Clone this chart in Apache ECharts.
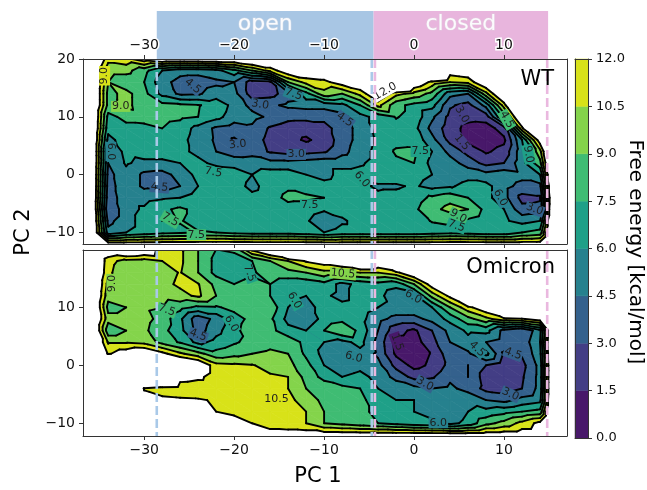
<!DOCTYPE html>
<html>
<head>
<meta charset="utf-8">
<script src="https://cdn.jsdelivr.net/npm/echarts@6/dist/echarts.min.js"></script>
<style>
  html, body { margin: 0; padding: 0; background: #fff; }
  #chart { width: 647px; height: 490px; }
</style>
</head>
<body>
<div id="chart"></div>
<script>
// grid nodes of the free energy maps (PC 1 across, PC 2 down from the top)
var xNodes = [-36, -34, -32, -30, -28, -26, -24, -22, -20, -18, -16, -14, -12, -10, -8, -6, -4, -2, 0, 2, 4, 6, 8, 10, 12, 14, 16];
var yNodes = [20, 18, 16, 14, 12, 10, 8, 6, 4, 2, 0, -2, -4, -6, -8, -10, -12];

// free energy [kcal/mol], one row per yNodes entry; values above 12 are left blank
var wtEnergy = [
  [16, 11, 11.5, 13, 14, 14, 14, 14, 14, 15, 15, 20, 20, 20, 20, 20, 20, 20, 20, 20, 20, 20, 20, 20, 20, 20, 20],
  [16, 9.5, 9.5, 8, 6, 5, 5, 5.5, 7, 9, 11, 13.5, 14, 14, 20, 20, 20, 20, 20, 20, 13, 13.5, 20, 20, 20, 20, 20],
  [16, 9, 8, 7.5, 5, 4, 3.8, 4.2, 4.5, 2.3, 2.6, 9, 11, 11.5, 13, 14, 20, 20, 14, 11.5, 10.5, 11, 14, 20, 20, 20, 20],
  [16, 8.5, 9.5, 8, 5.5, 4.2, 4.3, 5.2, 5, 2.2, 2.4, 3.8, 7, 10, 9, 11, 14, 11, 10, 8.5, 5, 4.5, 10, 15, 20, 20, 20],
  [16, 8.5, 9.5, 8, 8, 7.8, 7.6, 7, 5.5, 4, 4.2, 4.8, 5, 5, 5.5, 7.5, 11, 8, 7, 6.5, 3.2, 2.5, 5, 11.2, 20, 20, 20],
  [16, 7, 8, 8.2, 8, 7.8, 7.5, 6.5, 5.2, 5, 4.2, 3.5, 3.5, 3.5, 4, 5.5, 6.5, 7.6, 7, 4.8, 2.5, 2, 2.2, 8, 15, 20, 20],
  [16, 6.5, 7, 7, 7.5, 6.8, 5.5, 4.2, 3.8, 4.2, 2.8, 2.2, 2, 2.4, 3.8, 5, 6.5, 7, 6.5, 4, 2.2, 1, 0.8, 2.2, 11.5, 20, 20],
  [16, 5.5, 6.8, 7, 7, 6.5, 5.3, 4.3, 2.8, 3.8, 2.5, 2, 1.3, 2, 3.8, 5, 6.3, 7, 7, 5, 2.5, 1, 0.7, 1.2, 6, 13, 20],
  [16, 4.5, 6.5, 7, 7, 6.5, 5.5, 4.5, 3.8, 4, 2.8, 2.4, 2.5, 2.8, 4, 5.3, 6.5, 7.7, 7.8, 6, 4, 2.5, 1.3, 2, 5.5, 10, 20],
  [16, 4.5, 6.2, 5.5, 5.5, 6, 6.5, 5.5, 5.3, 5.2, 5, 5, 5.2, 5.5, 5.5, 5.8, 6.5, 7.2, 7.5, 5.5, 5.2, 3.8, 2.5, 3, 5.5, 8.5, 20],
  [16, 4, 5.5, 4.2, 4, 5, 6.5, 7.6, 7, 6, 6.8, 6.8, 6, 5.5, 6.5, 6.5, 6.8, 6.8, 6.5, 6, 5, 5.5, 5, 5.5, 5, 6, 20],
  [16, 3.8, 5.5, 4.2, 3.8, 4.5, 6, 7, 6.8, 5.5, 6.8, 7.3, 6.8, 6.5, 6.8, 6.3, 5.8, 5.8, 6.2, 5.5, 5.8, 6.5, 6.5, 5, 4, 4, 20],
  [16, 3.5, 5.5, 5.5, 5.8, 6, 6.8, 6.8, 6.8, 6.5, 7, 7.8, 7.8, 7.5, 6.5, 6, 6.3, 6.5, 6.8, 7.8, 8.5, 7.5, 6.5, 5, 2.5, 2.8, 20],
  [16, 3, 5.5, 6.2, 7.2, 7.8, 7, 6.5, 6.5, 6.8, 6.8, 7, 6.8, 6.2, 6.5, 6.5, 6.8, 6.5, 7.2, 8.5, 9.5, 9, 7, 6, 3.5, 3.5, 20],
  [16, 4, 5.5, 6.5, 7.5, 7.6, 7, 6.8, 6.8, 6.8, 6.5, 6.5, 6.2, 5, 5.8, 6.5, 6.5, 6.8, 6.8, 7.6, 7.8, 7.2, 6.5, 6.2, 5.5, 6, 20],
  [16, 5, 6, 6.5, 7, 7.2, 7.6, 7.5, 7, 6.8, 6.8, 6.8, 6.5, 6, 6.5, 6.5, 6.5, 6.5, 6.5, 6.8, 7, 6.8, 6.5, 6.5, 7.5, 8, 20],
  [16, 13, 13, 13, 13, 13, 13, 13, 13, 13, 13, 13, 13, 13, 13, 13, 13, 13, 13, 13, 13, 13, 13, 13, 13, 13, 20]
];

var omicronEnergy = [
  [16, 14, 15, 14, 11, 10.8, 9, 7.5, 7.8, 12.5, 15, 20, 20, 20, 20, 20, 20, 20, 20, 20, 20, 20, 20, 20, 20, 20, 20],
  [16, 11, 10, 9.8, 10.5, 10.8, 9, 7, 6.8, 7.5, 9, 10.5, 12.2, 13, 14, 16, 14, 20, 20, 20, 20, 20, 20, 20, 20, 20, 20],
  [16, 10.8, 9.5, 9.5, 9.8, 10.6, 9, 7, 6.8, 7.2, 8.5, 8.5, 9, 10, 10, 10.5, 10.5, 11.5, 14, 20, 20, 20, 20, 20, 20, 20, 20],
  [16, 10, 9.5, 9.3, 10, 10.8, 10.6, 8.5, 7.5, 8, 7.5, 6.5, 6.5, 7, 5.5, 6.5, 7, 6.5, 9, 13, 20, 20, 20, 20, 20, 20, 20],
  [16, 9.5, 9.8, 9.5, 9.5, 10, 10.8, 9, 8.5, 8.5, 7.5, 6.3, 6, 6.3, 5.5, 6.8, 6.5, 5, 5.5, 9.5, 12.5, 20, 20, 20, 20, 20, 20],
  [16, 8.5, 9, 9.2, 9, 8, 7.2, 7.3, 8, 9, 8.5, 6, 5.5, 6.5, 6.5, 6.8, 6, 5.5, 5.5, 6, 9, 11.5, 13.5, 20, 20, 20, 20],
  [16, 9.5, 9.5, 9.5, 8.5, 6.3, 3.5, 5, 6.8, 8, 7.8, 5.5, 5, 6.5, 7, 6.5, 5, 4, 4, 5, 6.5, 8.5, 10, 11.5, 11.8, 13, 20],
  [16, 8, 9, 9.3, 8, 6.5, 3.8, 5.5, 7, 8.5, 8, 6.5, 6, 7.5, 9, 7, 4.5, 2, 1.2, 3, 5, 6.3, 6.5, 4, 3, 5.5, 20],
  [16, 10.3, 10.3, 10, 8.5, 7.3, 5.5, 6.5, 7.3, 8, 8.5, 8.5, 7, 6, 5.5, 6.5, 4, 1, 0.8, 2.5, 4.5, 5.5, 4.5, 3.8, 3.5, 6, 20],
  [16, 11.8, 13, 14, 12.5, 10.8, 9.5, 8, 8.5, 9, 9.3, 9, 7.2, 5.5, 5.2, 5.5, 4.2, 1.2, 0.8, 1.6, 4, 4.2, 6.5, 2.8, 3.2, 5.5, 20],
  [16, 20, 20, 20, 20, 15, 14, 11, 10.8, 10.6, 10, 9.5, 8, 6, 5, 5.5, 5, 2.5, 1, 1.8, 3.5, 4.5, 3, 2, 2.5, 5, 20],
  [16, 20, 20, 20, 20, 13, 12.5, 11, 10.8, 10.8, 10.7, 10.5, 8.5, 7, 6, 6.5, 5.5, 4, 2.5, 2.8, 4.2, 4.5, 2.2, 2, 2.8, 5, 20],
  [16, 20, 20, 11.8, 11, 10.8, 10.6, 10.7, 10.6, 10.8, 10.8, 10.5, 9, 8.5, 8, 7.5, 6, 5.5, 5, 4.5, 4.8, 4, 2.5, 2.2, 3, 5, 20],
  [16, 20, 20, 13, 12.5, 12.3, 12.2, 11.8, 11.5, 10.8, 10.6, 10.8, 10, 8.5, 8, 8, 6.5, 6, 6, 5.5, 5, 5.5, 4.5, 4, 5, 5.5, 20],
  [16, 20, 20, 20, 14, 13.5, 13, 12, 11.5, 11, 11, 10.8, 10.5, 9, 8.2, 8, 7, 6.5, 6, 5.5, 4.8, 6, 6.5, 7, 7.5, 8, 20],
  [16, 20, 20, 20, 20, 20, 20, 15, 13, 12, 11, 10.8, 10.5, 9, 8.5, 8, 7.5, 7, 6.5, 6.3, 5.5, 6.5, 8.5, 9.5, 11, 12.5, 20],
  [16, 20, 20, 20, 20, 20, 20, 20, 13, 13, 13, 13, 13, 13, 13, 13, 13, 13, 13, 13, 13, 13, 13, 13, 13, 13, 20]
];

var levels = [0, 1.5, 3, 4.5, 6, 7.5, 9, 10.5, 12];
var bandColors = ['#48186a', '#433e85', '#34618d', '#26818e', '#1fa088', '#3fbc73', '#84d44b', '#d8e219'];

var xTicks = [-30, -20, -10, 0, 10];
var wtYTicks = [-10, 0, 10, 20];
var omYTicks = [-10, 0, 10];

var regionNames = ['open', 'closed'];
var regionStart = [-28.6, -4.5];
var regionEnd = [-4.5, 14.9];
var regionColors = ['#a8c6e4', '#e8b5dd'];
var regionTextStroke = ['#c3d3e6', '#e3c6dd'];

var openLines = [-28.6, -4.7];
var closedLines = [-4.35, 14.8];

// contour labels: [PC 1, PC 2, text, rotation in degrees]
var wtLabels = [
  [-34.4, 17.1, '9.0', 90], [-32.6, 11.8, '9.0', 0], [-24.6, 15.3, '4.5', -40],
  [-17.1, 12.1, '3.0', -10], [-19.6, 5.2, '3.0', 5], [-13.1, 3.5, '3.0', 0],
  [-22.3, 0.4, '7.5', -10], [-28.3, -2.2, '4.5', -5], [-11.6, -5.2, '7.5', 0],
  [-27.1, -7.8, '7.5', -30], [-24.2, -10.4, '7.5', 0], [-33.7, 4, '6.0', -90],
  [-13.4, 13.9, '7.5', -20], [-7.7, 9.5, '4.5', -35], [-5.8, -0.8, '6.0', -50],
  [-3.2, 14.4, '12.0', 30], [0.7, 4, '7.5', 0], [5.3, 10.4, '3.0', -60],
  [5.3, 5.6, '1.5', -50], [10.3, 9.5, '4.5', -60], [12.7, 3.5, '9.0', -80],
  [9.6, -4, '6.0', -60], [13.4, -6, '3.0', -20], [4.9, -7.2, '9.0', -30],
  [4.7, -8.9, '7.5', -20]
];
var omLabels = [
  [-33.6, 14.1, '9.0', 90], [-18.3, 15.9, '7.5', -70], [-27.5, 9.5, '7.5', -20],
  [-20.3, 7.2, '6.0', -60], [-24, 5.2, '4.5', -20], [-13.3, 11.2, '6.0', -60],
  [-15.3, -5.9, '10.5', 0], [-7.9, 15.8, '10.5', -5], [-6.7, 1.4, '6.0', -15],
  [-0.1, 11.8, '6.0', -30], [-1.9, 4, '1.5', -70], [1.2, -3.2, '3.0', -30],
  [7, 2.8, '4.5', -45], [11, 2, '4.5', -20], [10.7, -5, '3.0', -25],
  [2.7, -9.9, '6.0', 0]
];

var FONT = 'DejaVu Sans';
var AXIS_COLOR = '#333';

function fmtTick(v) {
  return v < 0 ? '\u2212' + Math.abs(v) : String(v);
}

// clip a triangle/polygon (with values at the vertices) against one level
function clipPoly(poly, level, keepAbove) {
  var out = [];
  for (var i = 0; i < poly.length; i++) {
    var a = poly[i], b = poly[(i + 1) % poly.length];
    var ina = keepAbove ? a.v >= level : a.v <= level;
    var inb = keepAbove ? b.v >= level : b.v <= level;
    if (ina) out.push(a);
    if (ina !== inb) {
      var t = (level - a.v) / (b.v - a.v);
      out.push({ x: a.x + t * (b.x - a.x), y: a.y + t * (b.y - a.y), v: level });
    }
  }
  return out;
}

function cellTriangles(grid, c, r) {
  var node = function (ci, ri) {
    return { x: xNodes[ci], y: yNodes[ri], v: grid[ri][ci] };
  };
  var a = node(c, r), b = node(c + 1, r), cc = node(c + 1, r + 1), d = node(c, r + 1);
  return [[a, b, cc], [a, cc, d]];
}

// colour of the band under a point, so a label can cut the lines below it
function bandAt(grid, x, y) {
  var c = 0, r = 0;
  while (c < xNodes.length - 2 && xNodes[c + 1] <= x) c++;
  while (r < yNodes.length - 2 && yNodes[r + 1] >= y) r++;
  var tx = (x - xNodes[c]) / (xNodes[c + 1] - xNodes[c]);
  var ty = (y - yNodes[r]) / (yNodes[r + 1] - yNodes[r]);
  var v = (1 - tx) * (1 - ty) * grid[r][c] + tx * (1 - ty) * grid[r][c + 1] +
          (1 - tx) * ty * grid[r + 1][c] + tx * ty * grid[r + 1][c + 1];
  for (var k = 0; k < bandColors.length; k++) {
    if (v < levels[k + 1]) return bandColors[k];
  }
  return '#ffffff';
}

var cells = [];
for (var r = 0; r < yNodes.length - 1; r++) {
  for (var c = 0; c < xNodes.length - 1; c++) {
    cells.push([xNodes[c], yNodes[r], c, r]);
  }
}

function fillSeries(grid, xi, yi) {
  return {
    type: 'custom', xAxisIndex: xi, yAxisIndex: yi, clip: true, silent: true, z: 2,
    data: cells, encode: { x: 0, y: 1 },
    renderItem: function (params, api) {
      var tris = cellTriangles(grid, api.value(2), api.value(3));
      var children = [];
      tris.forEach(function (tri) {
        for (var k = 0; k < bandColors.length; k++) {
          var poly = clipPoly(clipPoly(tri, levels[k], true), levels[k + 1], false);
          if (poly.length < 3) continue;
          children.push({
            type: 'polygon',
            shape: { points: poly.map(function (p) { return api.coord([p.x, p.y]); }) },
            style: { fill: bandColors[k], stroke: bandColors[k], lineWidth: 0.7 }
          });
        }
      });
      return { type: 'group', children: children };
    }
  };
}

function lineSeries(grid, xi, yi) {
  return {
    type: 'custom', xAxisIndex: xi, yAxisIndex: yi, clip: true, silent: true, z: 3,
    data: cells, encode: { x: 0, y: 1 },
    renderItem: function (params, api) {
      var tris = cellTriangles(grid, api.value(2), api.value(3));
      var children = [];
      tris.forEach(function (tri) {
        levels.forEach(function (L) {
          var pts = [];
          for (var e = 0; e < 3; e++) {
            var p1 = tri[e], p2 = tri[(e + 1) % 3];
            if ((p1.v < L) !== (p2.v < L)) {
              var t = (L - p1.v) / (p2.v - p1.v);
              pts.push(api.coord([p1.x + t * (p2.x - p1.x), p1.y + t * (p2.y - p1.y)]));
            }
          }
          if (pts.length === 2) {
            children.push({
              type: 'line',
              shape: { x1: pts[0][0], y1: pts[0][1], x2: pts[1][0], y2: pts[1][1] },
              style: { stroke: '#000', lineWidth: 1.9, lineCap: 'round' }
            });
          }
        });
      });
      return { type: 'group', children: children };
    }
  };
}

function labelSeries(labels, grid, xi, yi) {
  return {
    type: 'custom', xAxisIndex: xi, yAxisIndex: yi, clip: true, silent: true, z: 4,
    data: labels.map(function (l) { return [l[0], l[1], l[3]]; }),
    encode: { x: 0, y: 1 },
    renderItem: function (params, api) {
      var item = labels[params.dataIndex];
      var p = api.coord([item[0], item[1]]);
      return {
        type: 'text', x: p[0], y: p[1], rotation: item[3] * Math.PI / 180,
        style: {
          text: item[2], fill: '#1e1e1e', fontSize: 11, fontFamily: FONT,
          align: 'center', verticalAlign: 'middle',
          backgroundColor: bandAt(grid, item[0], item[1]), padding: [0, 1]
        }
      };
    }
  };
}

function dashSeries(xi, yi) {
  var data = openLines.map(function (x) { return [x, 0]; })
    .concat(closedLines.map(function (x) { return [x, 1]; }));
  return {
    type: 'custom', xAxisIndex: xi, yAxisIndex: yi, clip: true, silent: true, z: 5,
    data: data, encode: { x: 0 },
    renderItem: function (params, api) {
      var cs = params.coordSys;
      var px = api.coord([api.value(0), 0])[0];
      return {
        type: 'line',
        shape: { x1: px, y1: cs.y, x2: px, y2: cs.y + cs.height },
        style: {
          stroke: api.value(1) === 0 ? '#a9c9e8' : '#eab8df',
          lineWidth: 2.6, lineDash: [9, 4]
        }
      };
    }
  };
}

function xAxisDef(gi, pos, withLabels, withTicks, extra) {
  var a = {
    gridIndex: gi, type: 'value', min: -36.8, max: 17, position: pos, z: 10,
    splitLine: { show: false },
    axisLine: { show: true, onZero: false, lineStyle: { color: AXIS_COLOR, width: 1 } },
    axisTick: { show: withTicks, customValues: xTicks, length: 4, lineStyle: { color: AXIS_COLOR } },
    axisLabel: {
      show: withLabels, customValues: xTicks, formatter: fmtTick, margin: 7,
      fontSize: 14, fontFamily: FONT, color: '#111'
    }
  };
  if (extra) Object.assign(a.axisLabel, extra);
  return a;
}

function yAxisDef(gi, pos, min, max, ticks) {
  return {
    gridIndex: gi, type: 'value', min: min, max: max, position: pos, z: 10,
    splitLine: { show: false },
    axisLine: { show: true, onZero: false, lineStyle: { color: AXIS_COLOR, width: 1 } },
    axisTick: { show: !!ticks, customValues: ticks || [], length: 4, lineStyle: { color: AXIS_COLOR } },
    axisLabel: {
      show: !!ticks, customValues: ticks || [], formatter: fmtTick, margin: 8,
      fontSize: 14, fontFamily: FONT, color: '#111'
    }
  };
}

var chart = echarts.init(document.getElementById('chart'));

var option = {
  animation: false,
  backgroundColor: '#fff',
  textStyle: { fontFamily: FONT },
  grid: [
    { left: 83, top: 11, width: 484, height: 48 },
    { left: 83, top: 59, width: 484, height: 185 },
    { left: 83, top: 250, width: 484, height: 186 },
    { left: 575, top: 59, width: 13, height: 379 }
  ],
  xAxis: [
    { gridIndex: 0, type: 'value', min: -36.8, max: 17, show: false },
    xAxisDef(1, 'top', true, true, { textBorderColor: '#fff', textBorderWidth: 3 }),
    xAxisDef(1, 'bottom', false, true),
    xAxisDef(2, 'bottom', true, true),
    xAxisDef(2, 'top', false, false),
    {
      gridIndex: 3, type: 'value', min: 0, max: 1, position: 'bottom', z: 10,
      splitLine: { show: false }, axisTick: { show: false }, axisLabel: { show: false },
      axisLine: { show: true, onZero: false, lineStyle: { color: AXIS_COLOR } }
    },
    {
      gridIndex: 3, type: 'value', min: 0, max: 1, position: 'top', z: 10,
      splitLine: { show: false }, axisTick: { show: false }, axisLabel: { show: false },
      axisLine: { show: true, onZero: false, lineStyle: { color: AXIS_COLOR } }
    }
  ],
  yAxis: [
    { gridIndex: 0, type: 'value', min: 0, max: 1, show: false },
    yAxisDef(1, 'left', -12, 20, wtYTicks),
    yAxisDef(1, 'right', -12, 20, null),
    yAxisDef(2, 'left', -12.2, 19.9, omYTicks),
    yAxisDef(2, 'right', -12.2, 19.9, null),
    yAxisDef(3, 'left', 0, 12, null),
    {
      gridIndex: 3, type: 'value', min: 0, max: 12, interval: 1.5, position: 'right', z: 10,
      splitLine: { show: false },
      axisLine: { show: true, onZero: false, lineStyle: { color: AXIS_COLOR } },
      axisTick: { show: true, length: 4, lineStyle: { color: AXIS_COLOR } },
      axisLabel: {
        margin: 8, fontSize: 13, fontFamily: FONT, color: '#111',
        formatter: function (v) { return v.toFixed(1); }
      }
    }
  ],
  graphic: [
    { type: 'text', x: 318, y: 477, style: { text: 'PC 1', fill: '#000', fontSize: 21, fontFamily: FONT, align: 'center', verticalAlign: 'middle' } },
    { type: 'text', x: 24, y: 232, rotation: Math.PI / 2, style: { text: 'PC 2', fill: '#000', fontSize: 21, fontFamily: FONT, align: 'center', verticalAlign: 'middle' } },
    { type: 'text', x: 635, y: 252, rotation: -Math.PI / 2, style: { text: 'Free energy [kcal/mol]', fill: '#000', fontSize: 20, fontFamily: FONT, align: 'center', verticalAlign: 'middle' } },
    { type: 'text', x: 554, y: 80, z: 20, style: { text: 'WT', fill: '#000', fontSize: 21, fontFamily: FONT, align: 'right', verticalAlign: 'middle' } },
    { type: 'text', x: 555, y: 268, z: 20, style: { text: 'Omicron', fill: '#000', fontSize: 21, fontFamily: FONT, align: 'right', verticalAlign: 'middle' } }
  ],
  series: [
    {
      type: 'custom', xAxisIndex: 0, yAxisIndex: 0, silent: true, z: 1,
      data: regionNames.map(function (n, i) { return [regionStart[i], regionEnd[i], i]; }),
      encode: { x: [0, 1] },
      renderItem: function (params, api) {
        var i = api.value(2);
        var cs = params.coordSys;
        var x0 = api.coord([regionStart[i], 0])[0];
        var x1 = api.coord([regionEnd[i], 0])[0];
        return {
          type: 'group',
          children: [
            { type: 'rect', shape: { x: x0, y: cs.y, width: x1 - x0, height: cs.height }, style: { fill: regionColors[i] } },
            {
              type: 'text', x: (x0 + x1) / 2, y: cs.y + 13,
              style: {
                text: regionNames[i], fill: '#fbfbfd', stroke: regionTextStroke[i], lineWidth: 1.2,
                fontSize: 22, fontFamily: FONT, align: 'center', verticalAlign: 'middle'
              }
            }
          ]
        };
      }
    },
    fillSeries(wtEnergy, 1, 1),
    lineSeries(wtEnergy, 1, 1),
    labelSeries(wtLabels, wtEnergy, 1, 1),
    dashSeries(1, 1),
    fillSeries(omicronEnergy, 3, 3),
    lineSeries(omicronEnergy, 3, 3),
    labelSeries(omLabels, omicronEnergy, 3, 3),
    dashSeries(3, 3),
    {
      type: 'custom', xAxisIndex: 5, yAxisIndex: 6, silent: true, z: 2,
      data: bandColors.map(function (col, k) { return [0, levels[k], levels[k + 1], k]; }),
      encode: { x: 0, y: [1, 2] },
      renderItem: function (params, api) {
        var k = api.value(3);
        var p0 = api.coord([0, levels[k + 1]]);
        var p1 = api.coord([1, levels[k]]);
        return {
          type: 'rect',
          shape: { x: p0[0], y: p0[1], width: p1[0] - p0[0], height: p1[1] - p0[1] },
          style: { fill: bandColors[k], stroke: bandColors[k], lineWidth: 0.5 }
        };
      }
    }
  ]
};

chart.setOption(option);
</script>
</body>
</html>
